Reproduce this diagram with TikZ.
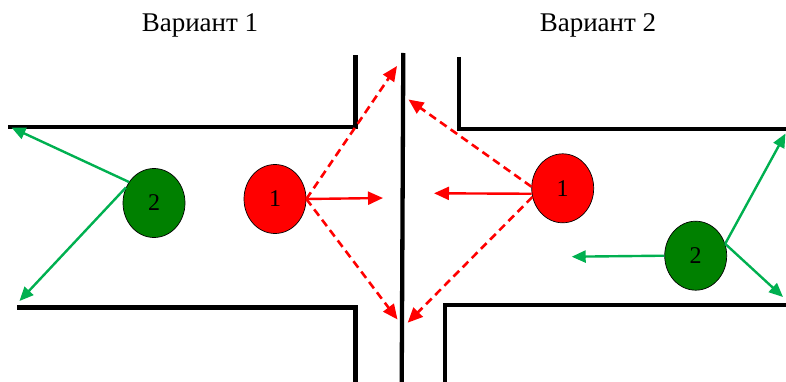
\documentclass[tikz,border=0pt]{standalone}
\usepackage{fontspec}
\setmainfont{Liberation Serif}
\usetikzlibrary{shapes.geometric,arrows.meta}
\definecolor{cred}{HTML}{FF0000}
\definecolor{cdkgreen}{HTML}{008000}
\definecolor{carrgreen}{HTML}{00B050}
\begin{document}
\begin{tikzpicture}[x=1pt,y=-1pt,
  wall/.style={line width=4.3pt,line join=miter,line cap=butt},
  ball/.style={ellipse,draw=black,line width=0.7pt,minimum width=62pt,minimum height=69pt,inner sep=0pt,font=\fontsize{24}{24}\selectfont},
  redball/.style={ball,fill=cred},
  greenball/.style={ball,fill=cdkgreen},
  garrow/.style={draw=carrgreen,line width=2.4pt,-{Triangle[length=14pt,width=12pt]}},
  rarrow/.style={draw=cred,line width=2.4pt,-{Triangle[length=15pt,width=13pt]}},
  rdash/.style={rarrow,line width=2.6pt,dash pattern=on 8pt off 5pt},
  title/.style={font=\fontsize{27}{27}\selectfont,anchor=base}
]
\useasboundingbox (0,0) rectangle (786,382);
% titles
\node[title] (t1) at (200,32) {Вариант 1};
\node[title] (t2) at (598,32) {Вариант 2};
% walls
\draw[wall] (8,127) -- (355.5,127) -- (355.5,55);
\draw[wall] (17,307.5) -- (355.5,307.5) -- (355.5,382);
\draw[wall] (403.3,53) -- (401.7,382);
\draw[wall] (459,57) -- (459,129) -- (786,129);
\draw[wall] (445,382) -- (445,305) -- (786,305);
% balls
\node[greenball] (g1) at (154,203) {2};
\node[redball] (r1) at (275,199) {1};
\node[redball] (r2) at (562.7,188.3) {1};
\node[greenball] (g2) at (695.7,255.7) {2};
% arrow targets
\coordinate (ga) at (11.5,127.5);
\coordinate (gb) at (19.5,301);
\coordinate (ra) at (383,198);
\coordinate (rb) at (397,66);
\coordinate (rc) at (397.5,319.5);
\coordinate (rd) at (408.5,99.5);
\coordinate (re) at (434,193.3);
\coordinate (rf) at (407.7,322.7);
\coordinate (gc) at (571.7,256.7);
\coordinate (gd) at (785.5,133.5);
\coordinate (ge) at (783,297);
% variant 1 arrows
\draw[garrow] (g1.140) -- (ga);
\draw[garrow] (g1.151) -- (gb);
\draw[rarrow] (r1.east) -- (ra);
\draw[rdash] (r1.east) -- (rb);
\draw[rdash] (r1.east) -- (rc);
% variant 2 arrows
\draw[rdash] (r2.177) -- (rd);
\draw[rarrow] (r2.190) -- (re);
\draw[rdash] (r2.196) -- (rf);
\draw[garrow] (g2.west) -- (gc);
\draw[garrow] (g2.22) -- (gd);
\draw[garrow] (g2.22) -- (ge);
\end{tikzpicture}
\end{document}
